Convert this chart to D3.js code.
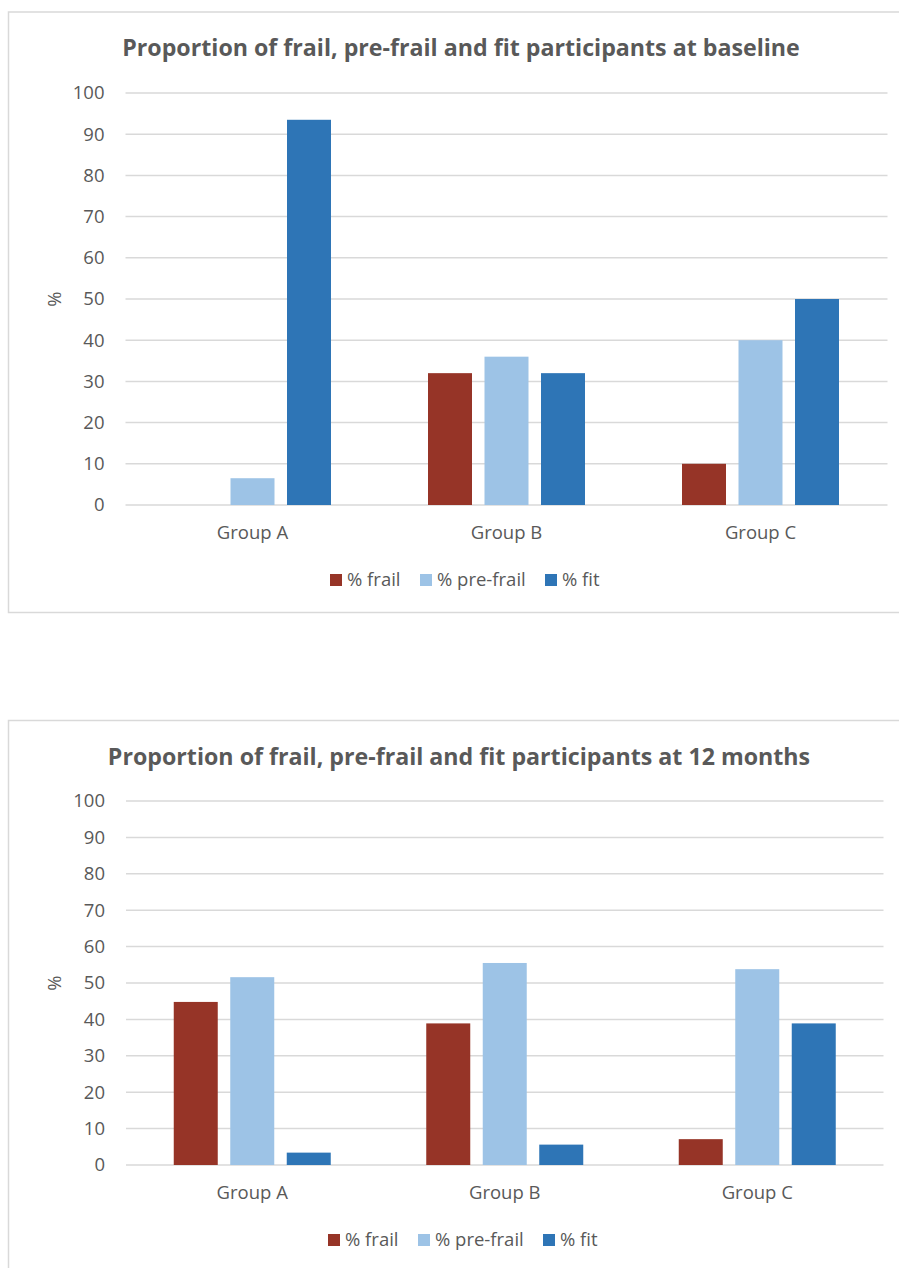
<!DOCTYPE html>
<html><head><meta charset="utf-8">
<script src="https://cdn.jsdelivr.net/npm/d3@7"></script>
<style>
body{margin:0;background:#fff;}
svg{display:block;}
text{font-family:"Open Sans",sans-serif;fill:#595959;}
</style></head>
<body>
<svg id="c" width="899" height="1268"></svg>
<script>
const categories = ["Group A","Group B","Group C"];
const seriesNames = ["% frail","% pre-frail","% fit"];
const seriesColors = ["#963427","#9DC3E6","#2E75B6"];
const baselineFrail = [0, 32, 10];
const baselinePreFrail = [6.5, 36, 40];
const baselineFit = [93.5, 32, 50];
const m12Frail = [44.8, 38.9, 7.1];
const m12PreFrail = [51.6, 55.5, 53.8];
const m12Fit = [3.4, 5.6, 38.9];
const yTicks = [0,10,20,30,40,50,60,70,80,90,100];
const titles = ["Proportion of frail, pre-frail and fit participants at baseline",
                "Proportion of frail, pre-frail and fit participants at 12 months"];

const svg = d3.select("#c");
const FS = "18.5px";

function drawChart(cfg){
  const g = svg.append("g");
  g.append("path")
    .attr("d", cfg.frame)
    .attr("fill","none").attr("stroke","#d9d9d9").attr("stroke-width",1.5);
  const y = d3.scaleLinear().domain([0,100]).range([cfg.y0, cfg.y100]);
  const x0 = d3.scaleBand().domain(categories).range([cfg.xl, cfg.xr]).padding(0);
  const half = 78.5;
  const x1 = d3.scaleBand().domain(seriesNames).range([-half, half]).paddingInner(12.5/56.5).paddingOuter(0);
  g.append("g").selectAll("line").data(yTicks).join("line")
    .attr("x1", cfg.xl).attr("x2", cfg.xr)
    .attr("y1", d=>y(d)).attr("y2", d=>y(d))
    .attr("stroke","#d9d9d9").attr("stroke-width",1.5);
  const ya = d3.axisLeft(y).tickValues(yTicks).tickSize(0).tickPadding(0);
  const yg = g.append("g").attr("transform",`translate(${cfg.xl-21},0)`).call(ya);
  yg.select(".domain").remove();
  yg.selectAll("text").style("font-size",FS).attr("fill","#595959").style("font-family","'Open Sans',sans-serif");
  const vals = cfg.values;
  const bars = [];
  categories.forEach((c,i)=>seriesNames.forEach((s,j)=>bars.push({c,s,j,v:vals[j][i]})));
  g.append("g").selectAll("rect").data(bars.filter(d=>d.v>0)).join("rect")
    .attr("x", d=>x0(d.c)+x0.bandwidth()/2+x1(d.s))
    .attr("width", x1.bandwidth())
    .attr("y", d=>y(d.v))
    .attr("height", d=>y(0)-y(d.v))
    .attr("fill", d=>seriesColors[d.j]);
  const xa = d3.axisBottom(x0).tickSize(0).tickPadding(0);
  const xg = g.append("g").attr("transform",`translate(0,${cfg.y0+28})`).call(xa);
  xg.select(".domain").remove();
  xg.selectAll("text").style("font-size",FS).attr("fill","#595959").style("font-family","'Open Sans',sans-serif").attr("dy","0.35em");
  g.append("text").attr("transform",`translate(${cfg.ylabX},${(cfg.y0+cfg.y100)/2}) rotate(-90)`)
    .attr("text-anchor","middle").attr("dy","0.35em").style("font-size",FS).text("%");
  g.append("text").attr("x", cfg.titleX).attr("y", cfg.titleY).attr("text-anchor","middle")
    .attr("dy","0.35em").style("font-size","23.2px").style("font-weight","bold").text(cfg.title);
  const lx = [cfg.legX, cfg.legX+90, cfg.legX+215];
  const lg = g.append("g");
  seriesNames.forEach((s,j)=>{
    lg.append("rect").attr("x",lx[j]).attr("y",cfg.legY-6).attr("width",12).attr("height",12).attr("fill",seriesColors[j]);
    lg.append("text").attr("x",lx[j]+17).attr("y",cfg.legY).attr("dy","0.35em").style("font-size",FS).text(s);
  });
}

drawChart({
  frame:"M 900 12 H 8.5 V 612.5 H 900",
  y0:505, y100:93, xl:125.5, xr:887.5, ylabX:55,
  values:[baselineFrail, baselinePreFrail, baselineFit],
  title:titles[0], titleX:461, titleY:48, legX:330, legY:580
});
drawChart({
  frame:"M 900 720.5 H 8.5 V 1270",
  y0:1165, y100:801, xl:126, xr:883.5, ylabX:55,
  values:[m12Frail, m12PreFrail, m12Fit],
  title:titles[1], titleX:459, titleY:757, legX:328, legY:1240
});
</script>
</body></html>
